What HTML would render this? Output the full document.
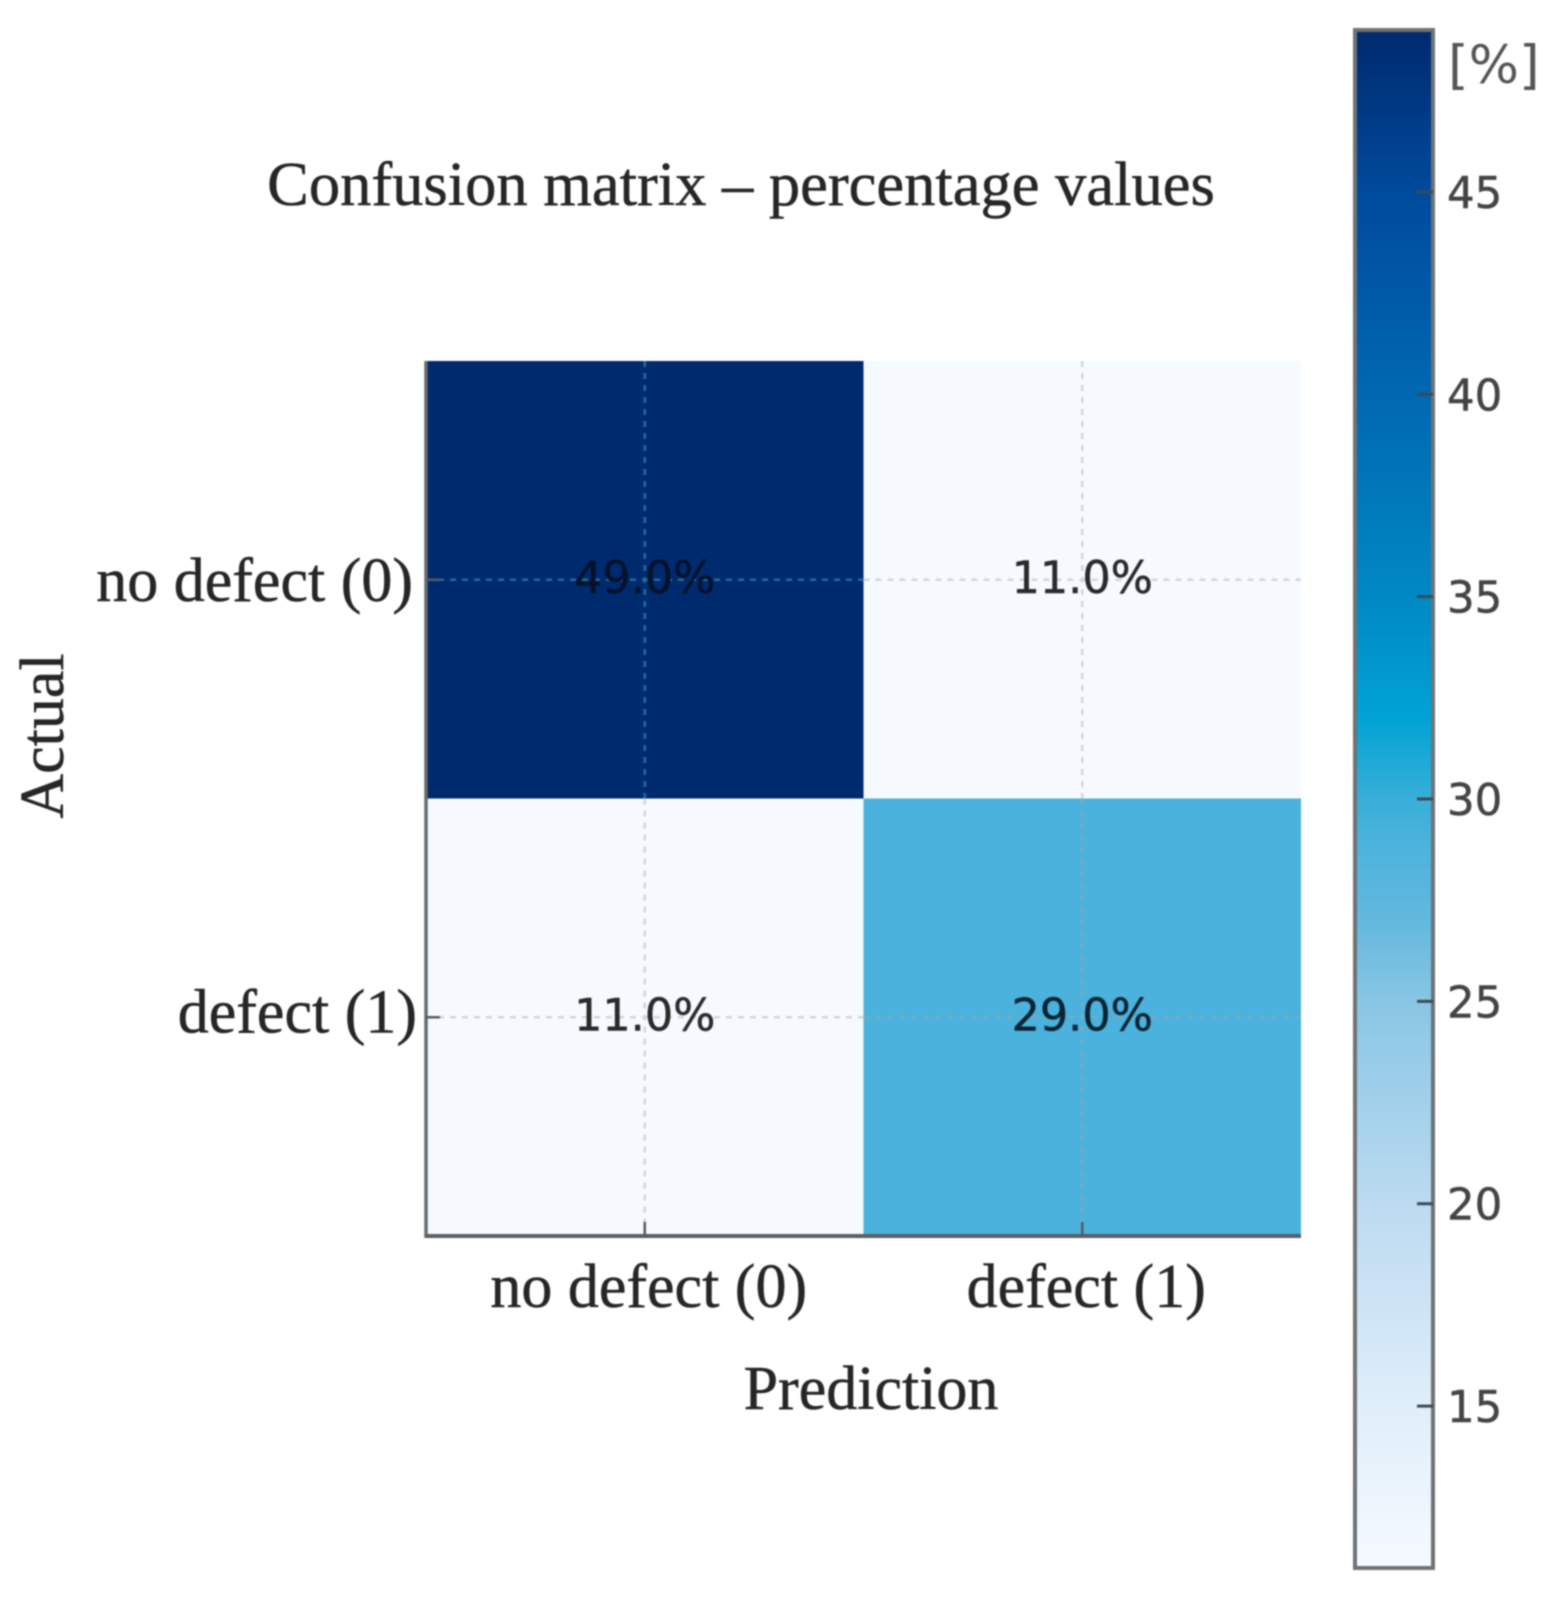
<!DOCTYPE html>
<html lang="en">
<head>
<meta charset="utf-8">
<title>Confusion matrix – percentage values</title>
<style>
  html, body { margin: 0; padding: 0; background: #fff; }
  #chart { display: block; width: 1560px; height: 1599px; }
  .serif { font-family: "Liberation Serif", "Times New Roman", serif; font-size: 62px; fill: #262626; stroke: #262626; stroke-width: 0.5px; }
  .sans { font-family: "DejaVu Sans", "Liberation Sans", sans-serif; stroke-width: 0.5px; }
</style>
</head>
<body>
<svg id="chart" xmlns="http://www.w3.org/2000/svg" width="1560" height="1599" viewBox="0 0 1560 1599">
  <defs>
    <linearGradient id="ramp" x1="0" y1="0" x2="0" y2="1"></linearGradient>
  </defs>
  <rect x="0" y="0" width="1560" height="1599" fill="#ffffff"/>
  <g id="root" style="filter: blur(0.8px)">
    <text class="serif" x="741" y="205" text-anchor="middle" style="font-size:62.5px">Confusion matrix – percentage values</text>
    <text class="serif" x="871" y="1409" text-anchor="middle">Prediction</text>
    <text class="serif" transform="translate(63 736) rotate(-90)" text-anchor="middle">Actual</text>
    <g id="cells"></g>
    <g id="grid"></g>
    <g id="annotations"></g>
    <g id="axes"></g>
    <g id="colorbar"></g>
    <text class="sans" x="1448" y="83" font-size="53" fill="#555555">[%]</text>
  </g>
</svg>
<script>
const categories = ['no defect (0)', 'defect (1)'];
const matrixValues = [[49, 11], [11, 29]];
const colorbarTicks = [15, 20, 25, 30, 35, 40, 45];
const rampValues = [11, 15, 20, 25, 27, 29, 30, 32, 35, 40, 45, 49];
const rampColors = ['#f6faff', '#dfeefa', '#bcdaf0', '#88c6e4', '#62b8de', '#4ab2dc', '#38aed8', '#00a3d4', '#0088c4', '#0068b0', '#004a9c', '#002a6e'];

const NS = 'http://www.w3.org/2000/svg';
function mk(parent, tag, attrs, text) {
  const el = document.createElementNS(NS, tag);
  for (const k in attrs) el.setAttribute(k, attrs[k]);
  if (text !== undefined) el.textContent = text;
  parent.appendChild(el);
  return el;
}
const plot = { left: 426, top: 361, size: 875 };
const cellSize = plot.size / categories.length;
const xBand = i => plot.left + i * cellSize;
const yBand = i => plot.top + i * cellSize;
const xCenter = i => xBand(i) + cellSize / 2;
const yCenter = i => yBand(i) + cellSize / 2;
const cbar = { left: 1355, right: 1433, top: 30, bottom: 1568 };
const vMin = rampValues[0];
const vMax = rampValues[rampValues.length - 1];
const cbarY = v => cbar.bottom - (v - vMin) / (vMax - vMin) * (cbar.bottom - cbar.top);

function hexToRgb(h) {
  return [1, 3, 5].map(i => parseInt(h.substr(i, 2), 16));
}
function colorFor(v) {
  const c = Math.min(vMax, Math.max(vMin, v));
  for (let i = 1; i < rampValues.length; i++) {
    if (c <= rampValues[i]) {
      const t = (c - rampValues[i - 1]) / (rampValues[i] - rampValues[i - 1]);
      const a = hexToRgb(rampColors[i - 1]);
      const b = hexToRgb(rampColors[i]);
      return 'rgb(' + a.map((x, j) => Math.round(x + (b[j] - x) * t)).join(',') + ')';
    }
  }
  return rampColors[rampColors.length - 1];
}
function gridColor(v) {
  if (v > 40) return '#1b6f96';
  if (v > 20) return '#76aac2';
  return '#d2d7dd';
}
function textColor(v) {
  if (v > 40) return '#04122c';
  if (v > 20) return '#0b2433';
  return '#2a2a2a';
}

const cellsG = document.getElementById('cells');
const gridG = document.getElementById('grid');
const annG = document.getElementById('annotations');
const axesG = document.getElementById('axes');
const cbG = document.getElementById('colorbar');

matrixValues.forEach((row, r) => {
  row.forEach((v, c) => {
    const cell = mk(cellsG, 'rect', { x: xBand(c), y: yBand(r), width: cellSize, height: cellSize, fill: colorFor(v) });
    
    

    const vLine = mk(gridG, 'line', { x1: xCenter(c), x2: xCenter(c), y1: yBand(r), y2: yBand(r) + cellSize, stroke: gridColor(v), 'stroke-width': 2.5, 'stroke-dasharray': '6 6' });
    
    

    const hLine = mk(gridG, 'line', { x1: xBand(c), x2: xBand(c) + cellSize, y1: yCenter(r), y2: yCenter(r), stroke: gridColor(v), 'stroke-width': 2.5, 'stroke-dasharray': '6 6' });
    
    

    const fill = textColor(v);
    const label = mk(annG, 'text', { x: xCenter(c), y: yCenter(r) + 13, 'text-anchor': 'middle', class: 'sans', 'font-size': 44.5, fill: fill, stroke: fill }, v.toFixed(1) + '%');
    
    
  });
});

const leftSpine = mk(axesG, 'line', { x1: plot.left, x2: plot.left, y1: plot.top, y2: plot.top + plot.size + 2, stroke: '#666a6e', 'stroke-width': 3.5 });



const bottomSpine = mk(axesG, 'line', { x1: plot.left, x2: plot.left + plot.size, y1: plot.top + plot.size, y2: plot.top + plot.size, stroke: '#5a5f63', 'stroke-width': 4 });



categories.forEach((name, i) => {
  const xTick = mk(axesG, 'line', { x1: xCenter(i), x2: xCenter(i), y1: plot.top + plot.size, y2: plot.top + plot.size - 14, stroke: '#555a5e', 'stroke-width': 2.5 });
  
  

  const yTick = mk(axesG, 'line', { x1: plot.left, x2: plot.left + 14, y1: yCenter(i), y2: yCenter(i), stroke: '#555a5e', 'stroke-width': 2.5 });
  
  

  const xLabel = mk(axesG, 'text', { x: xCenter(i) + 4, y: 1307, 'text-anchor': 'middle', class: 'serif' }, name);
  
  

  const yLabel = mk(axesG, 'text', { x: i === 0 ? 413 : 417, y: yCenter(i) + (i === 0 ? 21 : 15), 'text-anchor': 'end', class: 'serif' }, name);
  
  
});

const grad = document.getElementById('ramp');
for (let i = rampValues.length - 1; i >= 0; i--) {
  const offset = (cbarY(rampValues[i]) - cbar.top) / (cbar.bottom - cbar.top);
  mk(grad, 'stop', { offset: offset, 'stop-color': rampColors[i] });
}

const cbRect = mk(cbG, 'rect', { x: cbar.left, y: cbar.top, width: cbar.right - cbar.left, height: cbar.bottom - cbar.top, fill: 'url(#ramp)', stroke: '#6f7274', 'stroke-width': 4 });



colorbarTicks.forEach(t => {
  const tick = mk(cbG, 'line', { x1: cbar.right - 16, x2: cbar.right, y1: cbarY(t), y2: cbarY(t), stroke: '#3c4a58', 'stroke-width': 3 });
  
  

  const tickLabel = mk(cbG, 'text', { x: 1447, y: cbarY(t) + 16, class: 'sans', 'font-size': 43.5, fill: '#444444', stroke: '#444444' }, String(t));
  
  
});
</script>
</body>
</html>
